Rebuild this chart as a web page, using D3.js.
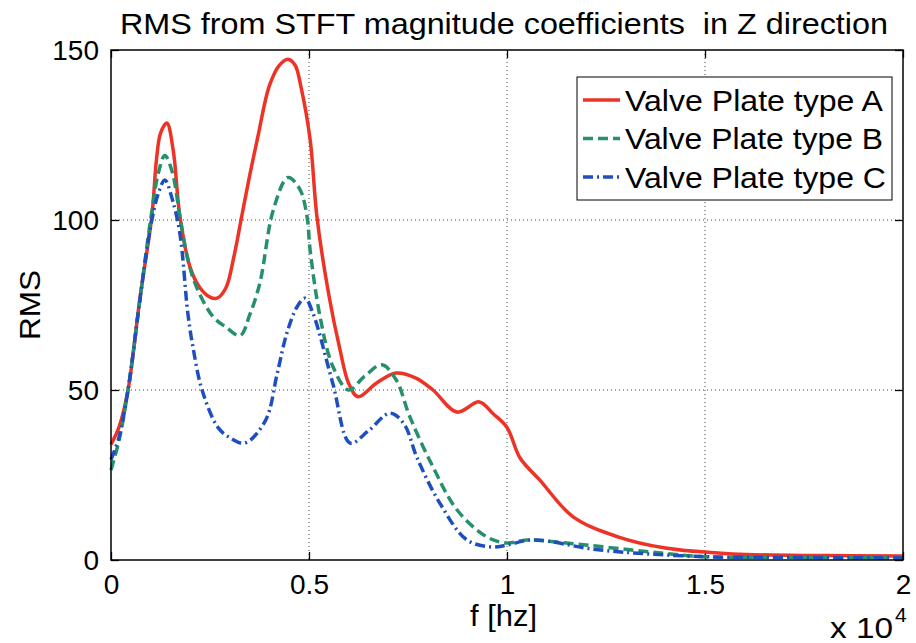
<!DOCTYPE html>
<html>
<meta charset="utf-8">
<script src="https://d3js.org/d3.v7.min.js"></script>
<style>
  body { margin: 0; background: #fff; }
  text { font-family: "Liberation Sans", Arial, sans-serif; fill: #000; }
</style>
<body>
<div id="chart"></div>
<script>
// values, f in units of 10^4 Hz
const seriesNames = ["Valve Plate type A", "Valve Plate type B", "Valve Plate type C"];

const fA = [0, 0.02, 0.043, 0.073, 0.103, 0.115, 0.125, 0.141, 0.157, 0.174, 0.2, 0.225, 0.25, 0.268, 0.29, 0.31, 0.33, 0.35, 0.37, 0.4, 0.425, 0.447, 0.465, 0.48, 0.503, 0.52, 0.55, 0.578, 0.6, 0.624, 0.67, 0.72, 0.77, 0.813, 0.874, 0.93, 0.965, 1.0, 1.033, 1.083, 1.167, 1.28, 1.4, 1.57, 1.8, 2.0];
const rmsA = [34, 39, 50, 77, 101, 118, 125.5, 128.5, 120.6, 101, 86, 80, 77.3, 77, 80, 89, 101, 113, 124, 139.5, 145.5, 147.3, 145.5, 139, 123.5, 101, 78, 62, 52, 48, 52, 55, 53.5, 50, 43.5, 46.5, 43, 39, 30, 23.5, 12.7, 6.8, 3.5, 1.8, 1.3, 1.2];

const fB = [0, 0.02, 0.043, 0.073, 0.1, 0.12, 0.136, 0.155, 0.174, 0.195, 0.217, 0.258, 0.29, 0.326, 0.35, 0.376, 0.41, 0.447, 0.477, 0.495, 0.503, 0.528, 0.56, 0.6, 0.64, 0.684, 0.72, 0.755, 0.813, 0.874, 0.949, 1.0, 1.05, 1.15, 1.36, 1.49, 1.7, 2.0];
const rmsB = [26.5, 35, 50, 76.5, 100, 114, 119, 114, 101, 88, 80, 71.5, 68.5, 66, 72, 81.5, 103, 112.5, 109, 101, 91, 71.5, 57, 50, 54, 57.4, 53, 42, 27.4, 14.7, 6.8, 5, 5.9, 5, 2.4, 1, 0.8, 0.6];

const fC = [0, 0.02, 0.043, 0.073, 0.1, 0.12, 0.136, 0.155, 0.174, 0.194, 0.207, 0.23, 0.27, 0.3, 0.338, 0.39, 0.42, 0.444, 0.47, 0.49, 0.51, 0.56, 0.604, 0.65, 0.705, 0.74, 0.773, 0.83, 0.899, 0.965, 1.0, 1.066, 1.23, 1.49, 1.7, 2.0];
const rmsC = [29.5, 36, 50, 76.5, 98, 108, 111.8, 106, 96, 72.6, 62.6, 50, 39, 36, 34.4, 41, 55, 66.7, 74.5, 77, 72.6, 52, 34.4, 38, 43.2, 40, 30, 16.8, 5.9, 3.8, 4.4, 5.9, 3, 1, 0.8, 0.6];

const xTicks = [0, 0.5, 1, 1.5, 2];
const xTickLabels = ["0", "0.5", "1", "1.5", "2"];
const yTicks = [0, 50, 100, 150];

const series = [
  { name: seriesNames[0], f: fA, v: rmsA, color: "#ec3326", dash: null, len: 258 },
  { name: seriesNames[1], f: fB, v: rmsB, color: "#26906a", dash: "10,5", len: 258 },
  { name: seriesNames[2], f: fC, v: rmsC, color: "#1f4fbf", dash: "10,4,2,4", len: 261 }
];

const W = 916, H = 643;
const margin = { top: 50, right: 13, bottom: 83, left: 111 };
const width = W - margin.left - margin.right,
      height = H - margin.top - margin.bottom;

const svg = d3.select("#chart").append("svg")
  .attr("width", W).attr("height", H);
const g = svg.append("g")
  .attr("transform", "translate(" + margin.left + "," + margin.top + ")");

const x = d3.scaleLinear().domain([0, 2]).range([0, width]);
const y = d3.scaleLinear().domain([0, 150]).range([height, 0]);

// dotted grid
g.selectAll(".vgrid").data(xTicks.slice(1, -1)).enter().append("line")
  .attr("x1", d => x(d)).attr("x2", d => x(d))
  .attr("y1", 0).attr("y2", height)
  .attr("stroke", "#444").attr("stroke-width", 1).attr("stroke-dasharray", "1,3");
g.selectAll(".hgrid").data(yTicks.slice(1, -1)).enter().append("line")
  .attr("x1", 0).attr("x2", width)
  .attr("y1", d => y(d)).attr("y2", d => y(d))
  .attr("stroke", "#444").attr("stroke-width", 1).attr("stroke-dasharray", "1,3");

// axes: labels outside, ticks pointing in
const fmtX = (d, i) => xTickLabels[i];
g.append("g").attr("transform", "translate(0," + height + ")")
  .call(d3.axisBottom(x).tickValues(xTicks).tickFormat(fmtX).tickSizeInner(-8).tickSizeOuter(0).tickPadding(14))
  .call(a => a.select(".domain").remove())
  .selectAll("text").style("font-size", "28px").attr("fill", "#000");
g.append("g")
  .call(d3.axisLeft(y).tickValues(yTicks).tickSizeInner(-8).tickSizeOuter(0).tickPadding(12))
  .call(a => a.select(".domain").remove())
  .selectAll("text").style("font-size", "28px").attr("fill", "#000").attr("dy", "0.35em");
g.append("g")
  .call(d3.axisTop(x).tickValues(xTicks).tickFormat("").tickSizeInner(-8).tickSizeOuter(0))
  .call(a => a.select(".domain").remove());
g.append("g").attr("transform", "translate(" + width + ",0)")
  .call(d3.axisRight(y).tickValues(yTicks).tickFormat("").tickSizeInner(-8).tickSizeOuter(0))
  .call(a => a.select(".domain").remove());
g.selectAll(".tick line").attr("stroke", "#000").attr("stroke-width", 1.3);

// curves
const line = d3.line()
  .x(d => x(d[0])).y(d => y(d[1]))
  .curve(d3.curveCatmullRom.alpha(0.5));

series.forEach(s => {
  g.append("path")
    .datum(s.f.map((f, i) => [f, s.v[i]]))
    .attr("d", line)
    .attr("fill", "none")
    .attr("stroke", s.color)
    .attr("stroke-width", 3.5)
    .attr("stroke-dasharray", s.dash);
});

// box
g.append("rect").attr("width", width).attr("height", height)
  .attr("fill", "none").attr("stroke", "#000").attr("stroke-width", 1.5);

// legend
const lg = svg.append("g").attr("transform", "translate(577,77)");
lg.append("rect").attr("width", 315).attr("height", 123)
  .attr("fill", "#fff").attr("stroke", "#000").attr("stroke-width", 1);
series.forEach((s, i) => {
  const yy = 23 + i * 38.5;
  lg.append("line").attr("x1", 6).attr("x2", 43).attr("y1", yy).attr("y2", yy)
    .attr("stroke", s.color).attr("stroke-width", 3.5).attr("stroke-dasharray", s.dash);
  lg.append("text").attr("x", 48).attr("y", yy).attr("dy", "0.36em")
    .attr("textLength", s.len).attr("lengthAdjust", "spacingAndGlyphs")
    .style("font-size", "30px").text(s.name);
});

// title and labels
svg.append("text").attr("x", 120).attr("y", 34)
  .attr("textLength", 768).attr("lengthAdjust", "spacingAndGlyphs")
  .style("font-size", "29px").style("white-space", "pre")
  .text("RMS from STFT magnitude coefficients  in Z direction");
svg.append("text").attr("x", 470).attr("y", 626)
  .attr("textLength", 67).attr("lengthAdjust", "spacingAndGlyphs")
  .style("font-size", "29px").text("f [hz]");
svg.append("text").attr("transform", "translate(40,340) rotate(-90)")
  .attr("textLength", 70).attr("lengthAdjust", "spacingAndGlyphs")
  .style("font-size", "29px").text("RMS");
svg.append("text").attr("x", 830).attr("y", 638)
  .attr("textLength", 63).attr("lengthAdjust", "spacingAndGlyphs")
  .style("font-size", "29px").text("x 10");
svg.append("text").attr("x", 895).attr("y", 622)
  .style("font-size", "21px").text("4");
</script>
</body>
</html>
